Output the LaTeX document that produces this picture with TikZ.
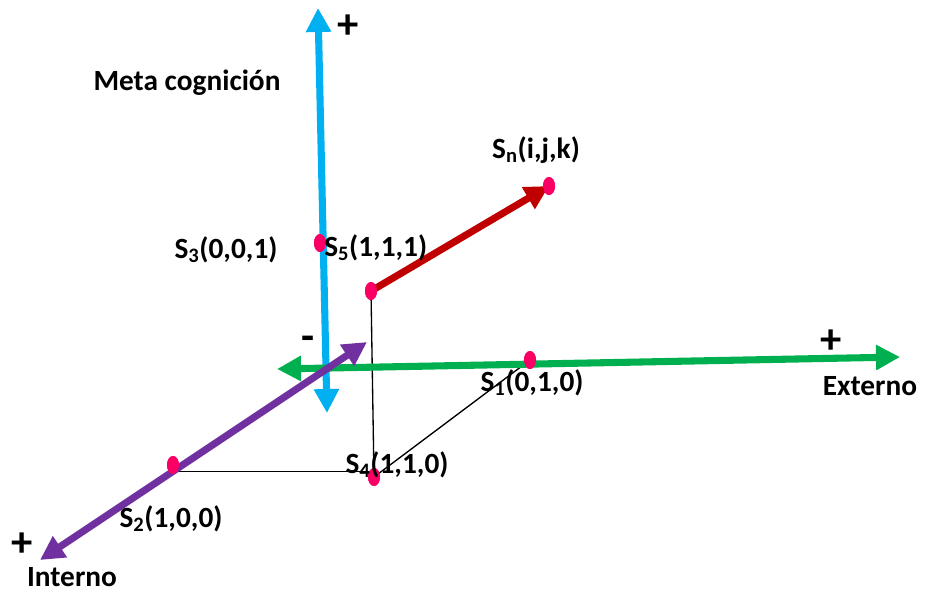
\documentclass[tikz,border=0pt]{standalone}
\usepackage{fontspec}
\setmainfont{Carlito}
\usetikzlibrary{calc,arrows.meta,shapes.geometric}
\definecolor{axisBlue}{RGB}{0,176,240}
\definecolor{axisGreen}{RGB}{0,176,80}
\definecolor{axisPurple}{RGB}{112,48,160}
\definecolor{vecRed}{RGB}{192,0,0}
\definecolor{dotPink}{RGB}{250,0,100}

\begin{document}
\begin{tikzpicture}[x=0.75pt,y=-0.75pt,
  axis/.style={line width=5.3pt,{Triangle[length=18pt,width=18pt]}-{Triangle[length=18pt,width=18pt]}},
  vec/.style={line width=5.3pt,-{Triangle[length=18pt,width=18pt]}},
  guide/.style={line width=1pt,black},
  dot/.style={ellipse,fill=dotPink,minimum width=9pt,minimum height=13.5pt,inner sep=0pt},
  lbl/.style={font=\fontsize{22}{26}\selectfont\bfseries,inner sep=0pt},
  sign/.style={font=\fontsize{32}{36}\selectfont\bfseries,inner sep=0pt}]
\useasboundingbox (0,0) rectangle (934,594);
% axis tips
\coordinate (upTip) at (318,8);
\coordinate (downTip) at (327,413);
\coordinate (leftTip) at (277,369);
\coordinate (rightTip) at (900,357);
\coordinate (inTip) at (367,342);
\coordinate (outTip) at (40,560);
% points
\node[dot] (s5) at (320,243) {};
\node[dot] (r0) at (371,291) {};
\node[dot] (s1) at (530,360) {};
\node[dot] (s2) at (173,465) {};
\node[dot] (s4) at (374,477) {};
\node[dot] (sn) at (549,186) {};
% thin guide lines
\draw[guide] (r0.center) -- (s4.center);
\draw[guide] (s2.south east) -- (s2.south east -| s4);
\draw[guide] (s4.center) -- (s1.center);
% axes
\draw[axis,axisBlue] (downTip) -- (upTip);
\draw[axis,axisGreen] (leftTip) -- (rightTip);
\draw[axis,axisPurple] (outTip) -- (inTip);
\draw[vec,vecRed] (r0.center) -- (sn.center);
% dots on top
\foreach \p in {s5,r0,s1,s2,s4,sn}
  \fill[dotPink] (\p) ellipse (4.5pt and 6.75pt);
% labels
\node[sign] (plusUp) at (348,27) {+};
\node[lbl] (meta) at (187,83) {Meta cognición};
\node[lbl] (lblSn) at (536,150) {S\textsubscript{n}(i,j,k)};
\node[lbl] (lblS3) at (226,250) {S\textsubscript{3}(0,0,1)};
\node[lbl,anchor=west] (lblS5) at (324,248) {S\textsubscript{5}(1,1,1)};
\node[sign] (minus) at (308,343) {-};
\node[sign] (plusRight) at (831,342) {+};
\node[lbl] (lblS1) at (532,383) {S\textsubscript{1}(0,1,0)};
\node[lbl] (externo) at (870,386) {Externo};
\node[lbl] (lblS4) at (397,465) {S\textsubscript{4}(1,1,0)};
\node[lbl] (lblS2) at (171,519) {S\textsubscript{2}(1,0,0)};
\node[sign] (plusDown) at (22,545) {+};
\node[lbl] (interno) at (72,577) {Interno};
\end{tikzpicture}
\end{document}
